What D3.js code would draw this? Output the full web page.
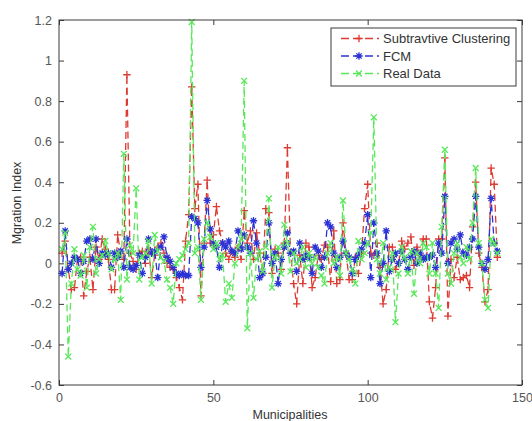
<!DOCTYPE html>
<html><head><meta charset="utf-8">
<script src="https://cdn.jsdelivr.net/npm/d3@7"></script>
<style>body{margin:0;background:#fff;} svg{display:block;font-family:"Liberation Sans",Arial,sans-serif;}</style>
</head><body><svg id="c" width="532" height="421"></svg>
<script>
const xTicks = [0, 50, 100, 150];
const yTicks = [-0.6, -0.4, -0.2, 0, 0.2, 0.4, 0.6, 0.8, 1, 1.2];
const yTickLabels = ["-0.6", "-0.4", "-0.2", "0", "0.2", "0.4", "0.6", "0.8", "1", "1.2"];
const seriesNames = ["Subtravtive Clustering", "FCM", "Real Data"];
const municipalities = d3.range(1, 143);
const subtractive = [0.05,0.11,-0.03,-0.13,-0.12,0.02,0.03,-0.16,-0.04,0.03,
 -0.13,0.08,0.02,0.12,0.07,0.02,-0.13,-0.13,0.14,0.05,
 0.02,0.93,0.05,0.01,-0.03,0.05,0.06,0.00,0.07,-0.07,
 0.04,0.08,0.10,0.05,0.00,-0.02,-0.03,-0.07,-0.12,-0.18,
 0.11,0.24,0.87,0.27,0.39,-0.16,0.10,0.41,0.10,0.14,
 0.28,0.16,0.10,0.05,0.02,0.06,0.03,0.08,0.02,0.26,
 0.10,0.16,0.02,0.15,0.05,-0.05,0.27,0.25,-0.05,0.07,
 0.05,-0.03,0.10,0.57,0.05,-0.10,-0.20,0.04,-0.10,0.10,
 0.08,-0.12,-0.07,0.04,0.02,0.09,0.08,-0.09,0.16,-0.10,
 -0.08,0.20,0.05,-0.08,-0.08,0.03,-0.05,0.05,0.27,0.39,
 0.05,0.04,0.10,-0.02,-0.20,-0.13,0.08,0.08,-0.03,0.00,
 0.11,0.07,0.10,0.13,-0.01,0.08,0.04,0.12,0.12,-0.19,
 -0.27,-0.12,0.12,0.12,0.52,-0.26,0.02,-0.07,0.03,-0.08,
 -0.07,-0.06,-0.12,0.18,0.40,0.05,-0.02,-0.19,-0.13,0.47,
 0.39,0.03];
const fcm = [-0.05,0.16,-0.03,0.00,0.03,0.02,-0.05,0.01,0.11,0.12,
 0.02,0.12,0.00,0.05,0.04,0.05,-0.02,0.05,0.03,0.06,
 -0.02,0.12,-0.02,-0.03,-0.01,0.04,-0.05,0.03,0.12,0.05,
 0.06,-0.07,0.08,0.13,0.03,0.01,-0.02,-0.05,-0.06,-0.05,
 -0.06,-0.06,0.23,0.22,0.20,-0.02,0.08,0.31,0.17,0.10,
 0.08,-0.02,0.10,0.08,0.11,0.06,0.05,0.16,0.07,0.14,
 0.08,0.05,0.21,0.10,-0.07,-0.05,0.03,0.20,0.00,0.05,
 -0.10,0.02,0.08,0.15,0.05,0.06,-0.04,0.10,0.02,0.04,
 0.03,-0.05,0.08,0.06,-0.02,0.03,0.20,0.18,0.05,-0.02,
 0.03,0.11,0.05,0.03,-0.05,0.02,0.04,0.07,0.10,0.24,
 -0.07,0.20,0.05,-0.10,0.00,0.16,-0.04,0.02,0.05,0.00,
 0.06,0.02,-0.03,0.03,0.06,0.00,0.05,0.02,0.03,0.03,
 0.04,-0.02,0.10,0.05,0.33,0.00,0.10,0.12,0.07,0.14,
 0.05,0.04,0.08,0.12,0.33,0.08,0.00,-0.03,0.02,0.32,
 0.10,0.06];
const realData = [0.07,0.15,-0.46,-0.10,0.07,-0.03,-0.06,0.04,-0.12,0.08,
 0.18,-0.05,0.02,0.04,0.11,0.05,-0.03,0.02,0.05,-0.18,
 0.54,-0.08,0.09,0.05,0.37,-0.08,0.03,0.05,0.11,-0.10,
 0.14,0.06,0.03,0.01,-0.08,-0.12,-0.20,0.00,0.02,0.04,
 0.07,0.10,1.19,0.05,0.08,-0.18,0.12,0.20,0.13,0.07,
 0.10,0.02,0.04,-0.19,-0.10,-0.17,0.00,0.08,0.12,0.90,
 -0.32,0.05,-0.17,0.02,0.06,-0.04,0.08,0.32,-0.12,0.03,
 0.08,-0.05,0.19,0.10,-0.04,0.05,0.00,0.02,0.08,-0.02,
 0.05,0.00,0.03,-0.02,-0.06,-0.10,0.05,0.10,0.00,0.03,
 -0.06,0.31,0.05,0.02,-0.03,-0.10,0.11,0.02,0.05,0.10,
 0.15,0.72,0.02,-0.05,0.10,-0.08,-0.02,0.05,-0.29,-0.05,
 0.08,0.03,-0.05,0.06,-0.15,0.05,0.00,0.10,0.08,-0.05,
 0.10,-0.05,-0.22,0.18,0.56,-0.05,-0.10,0.05,0.10,0.03,
 0.00,0.08,0.02,0.20,0.47,0.10,0.00,-0.18,-0.22,0.12,
 0.10,0.05];
const colors = ["#dd3a32", "#2b33d6", "#5ae85a"];
const markers = ["plus", "star", "cross"];

const svg = d3.select("#c");
const L = 59, R = 522, T = 20, B = 385;
const x = d3.scaleLinear().domain([0, 150]).range([L, R]);
const y = d3.scaleLinear().domain([-0.6, 1.2]).range([B, T]);

function markerPath(type, s) {
  if (type === "plus") return `M${-s},0H${s}M0,${-s}V${s}`;
  if (type === "cross") { const d = s * 0.8; return `M${-d},${-d}L${d},${d}M${-d},${d}L${d},${-d}`; }
  const d = s * 0.72;
  return `M${-s},0H${s}M0,${-s}V${s}M${-d},${-d}L${d},${d}M${-d},${d}L${d},${-d}`;
}

const axisColor = "#3a3a3a";
const tickColor = "#555";
const gL = svg.append("g").attr("transform", `translate(${L},0)`)
  .call(d3.axisLeft(y).tickValues(yTicks).tickSize(-5).tickPadding(7)
    .tickFormat((d, i) => yTickLabels[i]));
const gR = svg.append("g").attr("transform", `translate(${R},0)`)
  .call(d3.axisRight(y).tickValues(yTicks).tickSize(-5).tickFormat(""));
const gB = svg.append("g").attr("transform", `translate(0,${B})`)
  .call(d3.axisBottom(x).tickValues(xTicks).tickSize(-5).tickPadding(8));
const gT = svg.append("g").attr("transform", `translate(0,${T})`)
  .call(d3.axisTop(x).tickValues(xTicks).tickSize(-5).tickFormat(""));
[gL, gR, gB, gT].forEach(g => {
  g.select(".domain").remove();
  g.selectAll("line").attr("stroke", axisColor);
  g.selectAll("text").attr("fill", tickColor).style("font-size", "12.5px")
    .style("font-family", "'Liberation Sans', Arial, sans-serif");
});

const allSeries = [subtractive, fcm, realData];
allSeries.forEach((vals, k) => {
  const pts = municipalities.map((m, i) => [m, vals[i]]);
  svg.append("path").datum(pts)
    .attr("fill", "none").attr("stroke", colors[k]).attr("stroke-width", 1.3)
    .attr("stroke-dasharray", "7,4")
    .attr("d", d3.line().x(d => x(d[0])).y(d => y(d[1])));
  svg.append("g").selectAll("path").data(pts).join("path")
    .attr("transform", d => `translate(${x(d[0])},${y(d[1])})`)
    .attr("d", markerPath(markers[k], 3.7))
    .attr("fill", "none").attr("stroke", colors[k]).attr("stroke-width", 1.3);
});

svg.append("rect").attr("x", L).attr("y", T).attr("width", R - L).attr("height", B - T)
  .attr("fill", "none").attr("stroke", axisColor).attr("stroke-width", 1);

const lg = svg.append("g");
lg.append("rect").attr("x", 331).attr("y", 28).attr("width", 185).attr("height", 58)
  .attr("fill", "#fff").attr("stroke", axisColor).attr("stroke-width", 1);
seriesNames.forEach((name, k) => {
  const yy = 38.5 + k * 17.5;
  lg.append("line").attr("x1", 341).attr("x2", 379).attr("y1", yy).attr("y2", yy)
    .attr("stroke", colors[k]).attr("stroke-width", 1.3).attr("stroke-dasharray", "8,4");
  lg.append("path").attr("transform", `translate(359,${yy})`).attr("d", markerPath(markers[k], 3.7))
    .attr("fill", "none").attr("stroke", colors[k]).attr("stroke-width", 1.3);
  lg.append("text").attr("x", 383).attr("y", yy + 4.5).text(name)
    .attr("fill", "#333").style("font-size", "13px");
});

svg.append("text").attr("x", 290).attr("y", 419).attr("text-anchor", "middle")
  .attr("fill", "#333").style("font-size", "12.5px").text("Municipalities");
svg.append("text").attr("transform", "translate(21,203) rotate(-90)").attr("text-anchor", "middle")
  .attr("fill", "#333").style("font-size", "12.5px").text("Mgration Index");
</script></body></html>
